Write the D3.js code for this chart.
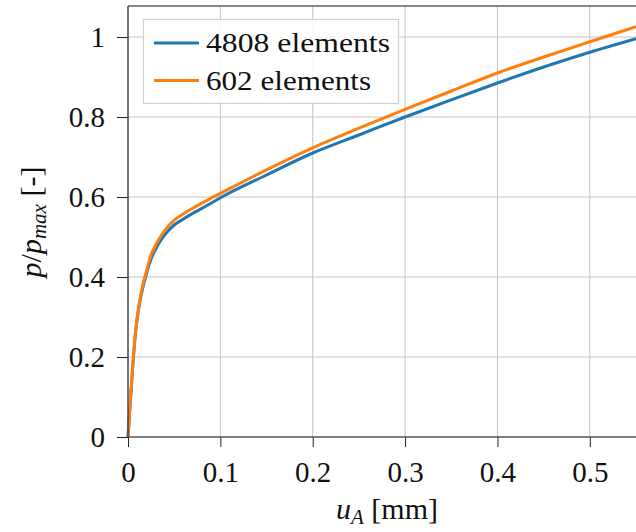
<!DOCTYPE html>
<html>
<head>
<meta charset="utf-8">
<script src="https://cdn.jsdelivr.net/npm/d3@7"></script>
<style>
  body { margin: 0; background: #fff; }
</style>
</head>
<body>
<div id="chart"></div>
<script>
// displacement u_A [mm]
const uValues = [0, 0.002, 0.004, 0.006, 0.008, 0.010, 0.013, 0.016, 0.020, 0.025, 0.030, 0.035,
                 0.040, 0.050, 0.060, 0.070, 0.085, 0.10, 0.15, 0.20, 0.25, 0.30, 0.35, 0.40, 0.45, 0.50, 0.55];
// p/p_max, fine mesh
const fineValues = [0, 0.07, 0.14, 0.203, 0.257, 0.296, 0.34, 0.373, 0.408, 0.445, 0.47, 0.49,
                    0.506, 0.53, 0.545, 0.559, 0.578, 0.598, 0.655, 0.71, 0.755, 0.80, 0.843, 0.885, 0.925, 0.962, 0.996];
// p/p_max, coarse mesh
const coarseValues = [0, 0.07, 0.14, 0.205, 0.26, 0.30, 0.345, 0.38, 0.415, 0.455, 0.48, 0.50,
                      0.517, 0.542, 0.558, 0.572, 0.591, 0.609, 0.668, 0.723, 0.772, 0.819, 0.865, 0.91, 0.95, 0.988, 1.026];
const seriesNames = ['4808 elements', '602 elements'];
const xTicks = [0, 0.1, 0.2, 0.3, 0.4, 0.5];
const yTicks = [0, 0.2, 0.4, 0.6, 0.8, 1];

const width = 636, height = 532;
const mLeft = 128, mRight = 636, mTop = 6, mBottom = 437;
const serif = 'Liberation Serif';

const svg = d3.select('#chart').append('svg')
    .attr('width', width)
    .attr('height', height);

const x = d3.scaleLinear().domain([0, 0.55]).range([mLeft, mRight]);
const y = d3.scaleLinear().domain([0, (mBottom - mTop) / 400]).range([mBottom, mTop]);

// grid
svg.append('g').selectAll('line').data(xTicks.slice(1)).join('line')
    .attr('x1', d => x(d)).attr('x2', d => x(d))
    .attr('y1', mTop).attr('y2', mBottom)
    .attr('stroke', '#c4c4c4').attr('stroke-width', 1);
svg.append('g').selectAll('line').data(yTicks.slice(1)).join('line')
    .attr('x1', mLeft).attr('x2', mRight)
    .attr('y1', d => y(d)).attr('y2', d => y(d))
    .attr('stroke', '#c4c4c4').attr('stroke-width', 1);

// axes
const fmt = d => d === 0 ? '0' : (d === 1 ? '1' : d3.format('.1f')(d));
const xAxis = svg.append('g')
    .attr('transform', `translate(0,${mBottom})`)
    .call(d3.axisBottom(x).tickValues(xTicks).tickFormat(fmt).tickSize(10).tickPadding(14));
const yAxis = svg.append('g')
    .attr('transform', `translate(${mLeft},0)`)
    .call(d3.axisLeft(y).tickValues(yTicks).tickFormat(fmt).tickSize(11).tickPadding(12));
[xAxis, yAxis].forEach(g => {
    g.attr('font-family', serif).attr('font-size', 29);
    g.select('.domain').remove();
    g.selectAll('.tick line').attr('stroke', '#222').attr('stroke-width', 1);
    g.selectAll('.tick text').attr('fill', '#111');
});
yAxis.selectAll('.tick text').attr('dy', '0.34em');

// curves
const line = d3.line()
    .x((d, i) => x(uValues[i]))
    .y(d => y(d))
    .curve(d3.curveMonotoneX);

const colors = ['#1f77b4', '#ff7f0e'];
[fineValues, coarseValues].forEach((vals, k) => {
    svg.append('path')
        .attr('d', line(vals))
        .attr('fill', 'none')
        .attr('stroke', colors[k])
        .attr('stroke-width', 3);
});

// spines
svg.append('line').attr('x1', mLeft).attr('x2', mRight).attr('y1', mTop).attr('y2', mTop)
    .attr('stroke', '#111').attr('stroke-width', 1.2);
svg.append('line').attr('x1', mLeft).attr('x2', mLeft).attr('y1', mTop).attr('y2', mBottom)
    .attr('stroke', '#444').attr('stroke-width', 1.5);
svg.append('line').attr('x1', mLeft).attr('x2', mRight).attr('y1', mBottom).attr('y2', mBottom)
    .attr('stroke', '#555').attr('stroke-width', 1.5);

// legend
const legend = svg.append('g');
legend.append('rect')
    .attr('x', 143.5).attr('y', 19.5).attr('width', 255).attr('height', 84)
    .attr('fill', '#fff').attr('fill-opacity', 0.9)
    .attr('stroke', '#cfcfcf').attr('stroke-width', 1.2);
seriesNames.forEach((name, k) => {
    const ly = 43 + k * 37.5;
    legend.append('line')
        .attr('x1', 154).attr('x2', 199).attr('y1', ly).attr('y2', ly)
        .attr('stroke', colors[k]).attr('stroke-width', 2.8);
    legend.append('text')
        .attr('x', 206).attr('y', ly + 9)
        .attr('font-size', 28)
        .attr('fill', '#111')
        .attr('textLength', k === 0 ? 184 : 165)
        .attr('lengthAdjust', 'spacingAndGlyphs')
        .text(name);
});

// axis titles
const xt = svg.append('text')
    .attr('x', 387).attr('y', 519)
    .attr('text-anchor', 'middle')
    .attr('font-size', 30)
    .attr('fill', '#111');
xt.append('tspan').attr('font-style', 'italic').text('u');
xt.append('tspan').attr('font-style', 'italic').attr('font-size', 21).attr('dy', 5).text('A');
xt.append('tspan').attr('dy', -5).text(' [mm]');

const yt = svg.append('text')
    .attr('transform', 'translate(41,222) rotate(-90)')
    .attr('text-anchor', 'middle')
    .attr('font-size', 30)
    .attr('fill', '#111');
yt.append('tspan').attr('font-style', 'italic').text('p');
yt.append('tspan').text('/');
yt.append('tspan').attr('font-style', 'italic').text('p');
yt.append('tspan').attr('font-style', 'italic').attr('font-size', 21).attr('dy', 5).text('max');
yt.append('tspan').attr('dy', -5).text(' [-]');

// one serif face for every label
svg.selectAll('text').style('font-family', serif, 'important');
</script>
</body>
</html>
